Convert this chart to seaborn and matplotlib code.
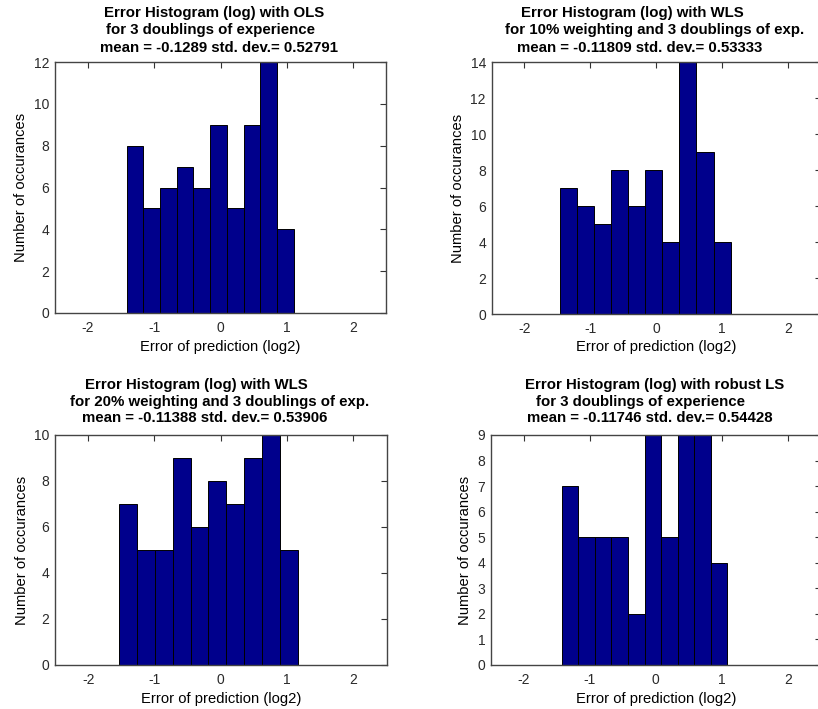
import numpy as np
import pandas as pd
import matplotlib
matplotlib.use("Agg")
import matplotlib.pyplot as plt
import seaborn as sns

# Histogram counts of log2 prediction errors for each fitting method
ols_counts = [8, 5, 6, 7, 6, 9, 5, 9, 12, 4]
wls10_counts = [7, 6, 5, 8, 6, 8, 4, 14, 9, 4]
wls20_counts = [7, 5, 5, 9, 6, 8, 7, 9, 10, 5]
robust_counts = [7, 5, 5, 5, 2, 9, 5, 9, 9, 4]

# Left edge and width of the ten bins used for each histogram
bin_starts = [-1.419, -1.4545, -1.532, -1.424]
bin_widths = [0.2526, 0.2585, 0.2693, 0.2504]

y_limits = [12, 14, 10, 9]
y_steps = [2, 2, 2, 1]
x_ticks = [-2, -1, 0, 1, 2]

title_lines = [
    ["Error Histogram (log) with OLS",
     "for 3 doublings of experience",
     "mean = -0.1289 std. dev.= 0.52791"],
    ["Error Histogram (log) with WLS",
     "for 10% weighting and 3 doublings of exp.",
     "mean = -0.11809 std. dev.= 0.53333"],
    ["Error Histogram (log) with WLS",
     "for 20% weighting and 3 doublings of exp.",
     "mean = -0.11388 std. dev.= 0.53906"],
    ["Error Histogram (log) with robust LS",
     "for 3 doublings of experience",
     "mean = -0.11746 std. dev.= 0.54428"],
]

x_label = "Error of prediction (log2)"
y_label = "Number of occurances"

sns.set_style("white")
plt.rcParams["font.family"] = ["Liberation Sans", "DejaVu Sans"]
plt.rcParams["axes.unicode_minus"] = False

W, H = 818, 709
fig = plt.figure(figsize=(W / 100, H / 100), dpi=100)

# axes boxes in pixel units: left, top, right, bottom
boxes = [
    (55, 62, 386, 313),
    (491.5, 62, 820.7, 314),
    (55, 435, 386.5, 665),
    (491, 435, 820.7, 665),
]
# pixel centres of the three title lines
title_x = [
    (213.8, 211, 219.2),
    (632.2, 654.3, 640),
    (196.7, 219.7, 205),
    (655, 640, 650.3),
]
title_y = [(13.3, 30, 47.7), (13.3, 30, 47.7), (385, 401.7, 418.3), (385, 401.7, 418.3)]

all_counts = [ols_counts, wls10_counts, wls20_counts, robust_counts]
bar_color = "#00008C"

for i in range(4):
    l, t, r, b = boxes[i]
    ax = fig.add_axes([l / W, 1 - b / H, (r - l) / W, (b - t) / H])
    counts = np.array(all_counts[i], dtype=float)
    edges = [bin_starts[i] + bin_widths[i] * k for k in range(len(counts) + 1)]
    centers = [(edges[k] + edges[k + 1]) / 2 for k in range(len(counts))]
    df = pd.DataFrame({"error": centers, "n": counts})
    sns.histplot(data=df, x="error", weights="n", bins=edges, ax=ax,
                 color=bar_color, edgecolor="black", linewidth=0.7,
                 alpha=1.0, stat="count")
    ax.set_xlim(-2.5, 2.5)
    ax.set_ylim(0, y_limits[i])
    ax.set_xticks(x_ticks)
    ax.set_yticks(np.arange(0, y_limits[i] + 0.5, y_steps[i]))
    ax.tick_params(direction="in", top=True, right=True, length=4, width=0.8,
                   labelsize=10, colors="#333333", labelcolor="#2a2a2a")
    ax.tick_params(axis="y", pad=4)
    ax.tick_params(axis="x", pad=6)
    for s in ax.spines.values():
        s.set_color("#444444")
        s.set_linewidth(1.0)
        s.set_visible(True)
    ax.set_xlabel(x_label, fontsize=10.6, labelpad=3, color="black")
    ax.set_ylabel(y_label, fontsize=10.6, labelpad=4, color="black")
    for line, xc, yc in zip(title_lines[i], title_x[i], title_y[i]):
        fig.text(xc / W, 1 - yc / H, line, ha="center", va="center",
                 fontsize=10.8, fontweight="bold", color="black")

fig.savefig("out.png", dpi=100)
